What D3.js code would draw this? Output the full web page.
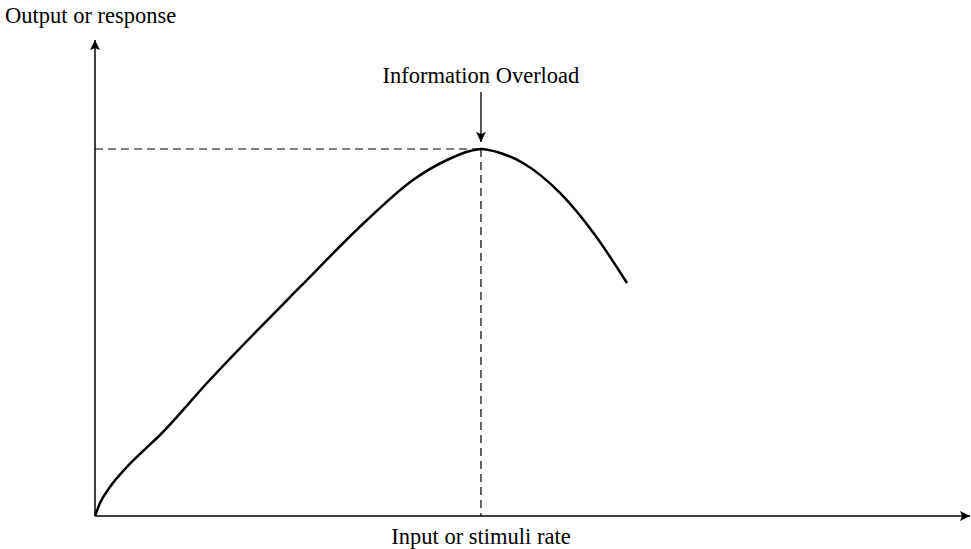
<!DOCTYPE html>
<html>
<head>
<meta charset="utf-8">
<script src="https://cdn.jsdelivr.net/npm/d3@7"></script>
<style>
  body { margin: 0; background: #fff; }
  text { font-family: "Liberation Serif", "Times New Roman", serif; fill: #000; }
</style>
</head>
<body>
<div id="chart"></div>
<script>
const width = 971;
const height = 549;

// curve (x = input rate, y = output), arbitrary units 0-100
const inputRate = [0, 0.57, 1.71, 3.43, 5.49, 7.43, 12.8, 23.43, 31.09, 36.34, 40.23, 42.86, 44.11, 45.94, 48.91, 53.14, 57.14, 60.8];
const output = [0, 2.73, 6.09, 9.87, 13.66, 17.02, 27.94, 48.11, 62.18, 70.59, 74.79, 76.68, 77.1, 76.47, 74.16, 67.86, 59.03, 48.95];
const peak = { x: 44.11, y: 77.1 };
const labels = {
  y: "Output or response",
  x: "Input or stimuli rate",
  peak: "Information Overload"
};

const xScale = d3.scaleLinear().domain([0, 100]).range([95, 970]);
const yScale = d3.scaleLinear().domain([0, 100]).range([516, 40]);

const svg = d3
  .select("#chart")
  .append("svg")
  .attr("width", width)
  .attr("height", height);

const defs = svg.append("defs");
defs
  .append("marker")
  .attr("id", "arrow")
  .attr("viewBox", "0 0 10 10")
  .attr("refX", 10)
  .attr("refY", 5)
  .attr("markerWidth", 10)
  .attr("markerHeight", 10)
  .attr("markerUnits", "userSpaceOnUse")
  .attr("orient", "auto")
  .append("path")
  .attr("d", "M0,0 L10,5 L0,10 L2,5 Z")
  .attr("fill", "#000");

// axes
svg.append("line")
  .attr("x1", xScale(0)).attr("y1", yScale(0))
  .attr("x2", xScale(100)).attr("y2", yScale(0))
  .attr("stroke", "#000").attr("stroke-width", 1.5)
  .attr("marker-end", "url(#arrow)");

svg.append("line")
  .attr("x1", xScale(0)).attr("y1", yScale(0))
  .attr("x2", xScale(0)).attr("y2", yScale(100))
  .attr("stroke", "#000").attr("stroke-width", 1.5)
  .attr("marker-end", "url(#arrow)");

// dashed guides to the peak
svg.append("line")
  .attr("x1", xScale(0)).attr("y1", yScale(peak.y))
  .attr("x2", xScale(peak.x)).attr("y2", yScale(peak.y))
  .attr("stroke", "#000").attr("stroke-width", 1.2)
  .attr("stroke-dasharray", "8,5");

svg.append("line")
  .attr("x1", xScale(peak.x)).attr("y1", yScale(peak.y))
  .attr("x2", xScale(peak.x)).attr("y2", yScale(0))
  .attr("stroke", "#000").attr("stroke-width", 1.2)
  .attr("stroke-dasharray", "8,5");

// the curve
const line = d3.line()
  .x((d, i) => xScale(inputRate[i]))
  .y((d) => yScale(d))
  .curve(d3.curveMonotoneX);

svg.append("path")
  .datum(output)
  .attr("d", line)
  .attr("fill", "none")
  .attr("stroke", "#000")
  .attr("stroke-width", 2.5);

// annotation arrow
svg.append("line")
  .attr("x1", xScale(peak.x)).attr("y1", 92)
  .attr("x2", xScale(peak.x)).attr("y2", yScale(peak.y) - 7)
  .attr("stroke", "#000").attr("stroke-width", 1.3)
  .attr("marker-end", "url(#arrow)");

// labels
svg.append("text")
  .attr("x", 5).attr("y", 23)
  .attr("font-size", 22.5)
  .text(labels.y);

svg.append("text")
  .attr("x", xScale(peak.x)).attr("y", 83)
  .attr("text-anchor", "middle")
  .attr("font-size", 22.5)
  .text(labels.peak);

svg.append("text")
  .attr("x", xScale(peak.x)).attr("y", 544)
  .attr("text-anchor", "middle")
  .attr("font-size", 22.5)
  .text(labels.x);
</script>
</body>
</html>
